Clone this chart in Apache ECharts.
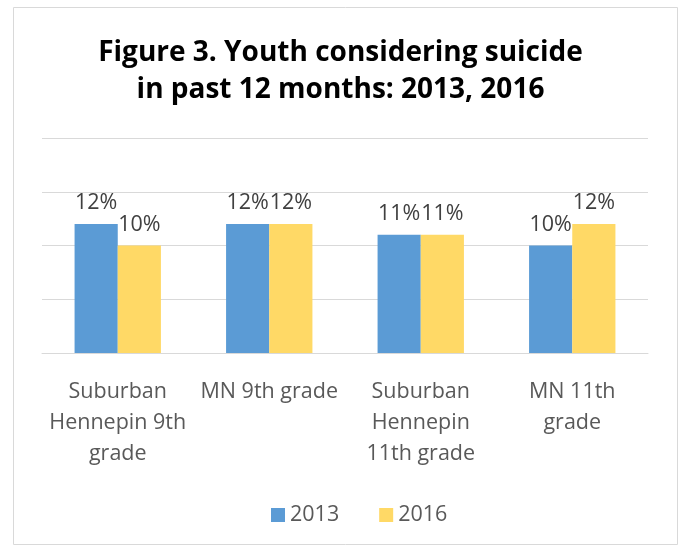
<!DOCTYPE html>
<html>
<head>
<meta charset="utf-8">
<script src="https://cdn.jsdelivr.net/npm/echarts@6/dist/echarts.min.js"></script>
<style>html,body{margin:0;padding:0;background:#fff;}#c{width:681px;height:546px;}</style>
</head>
<body>
<div id="c"></div>
<script>
const categories = ["Suburban\nHennepin 9th\ngrade", "MN 9th grade", "Suburban\nHennepin\n11th grade", "MN 11th\ngrade"];
const values2013 = [12, 12, 11, 10];
const values2016 = [10, 12, 11, 12];
const seriesNames = ["2013", "2016"];

const chart = echarts.init(document.getElementById('c'));
const FONT = '"Open Sans", "Noto Sans", sans-serif';
const labelCfg = {
  show: true, position: 'top', distance: 10,
  formatter: p => p.value + '%', fontSize: 21.5, color: '#404040', fontFamily: FONT
};
chart.setOption({
  animation: false,
  graphic: [{
    type: 'rect', shape: {x: 13.5, y: 7.5, width: 664, height: 537},
    style: {fill: 'none', stroke: '#d9d9d9', lineWidth: 1}, z: -1
  }],
  title: {
    text: 'Figure 3. Youth considering suicide\nin past 12 months: 2013, 2016',
    left: 'center', top: 30,
    textStyle: {fontSize: 28, fontWeight: 'bold', color: '#000', lineHeight: 37, fontFamily: FONT}
  },
  legend: {
    bottom: 15, left: 266, itemWidth: 14, itemHeight: 14, itemGap: 40,
    icon: 'rect',
    textStyle: {fontSize: 21.5, color: '#595959', fontFamily: FONT},
    data: seriesNames
  },
  grid: {left: 42, right: 33, top: 138, bottom: 193},
  xAxis: {
    type: 'category', data: categories,
    axisLine: {lineStyle: {color: '#d9d9d9', width: 1}},
    axisTick: {show: false},
    axisLabel: {fontSize: 21.5, color: '#595959', lineHeight: 31, margin: 23, fontFamily: FONT, interval: 0}
  },
  yAxis: {
    type: 'value', min: 0, max: 20, interval: 5,
    axisLabel: {show: false}, axisLine: {show: false}, axisTick: {show: false},
    splitLine: {lineStyle: {color: '#d9d9d9', width: 1}}
  },
  series: [
    {name: seriesNames[0], type: 'bar', data: values2013, barGap: '0%', barCategoryGap: '43%',
     itemStyle: {color: '#5B9BD5'}, label: labelCfg},
    {name: seriesNames[1], type: 'bar', data: values2016,
     itemStyle: {color: '#FFD966'}, label: labelCfg}
  ]
});
</script>
</body>
</html>
